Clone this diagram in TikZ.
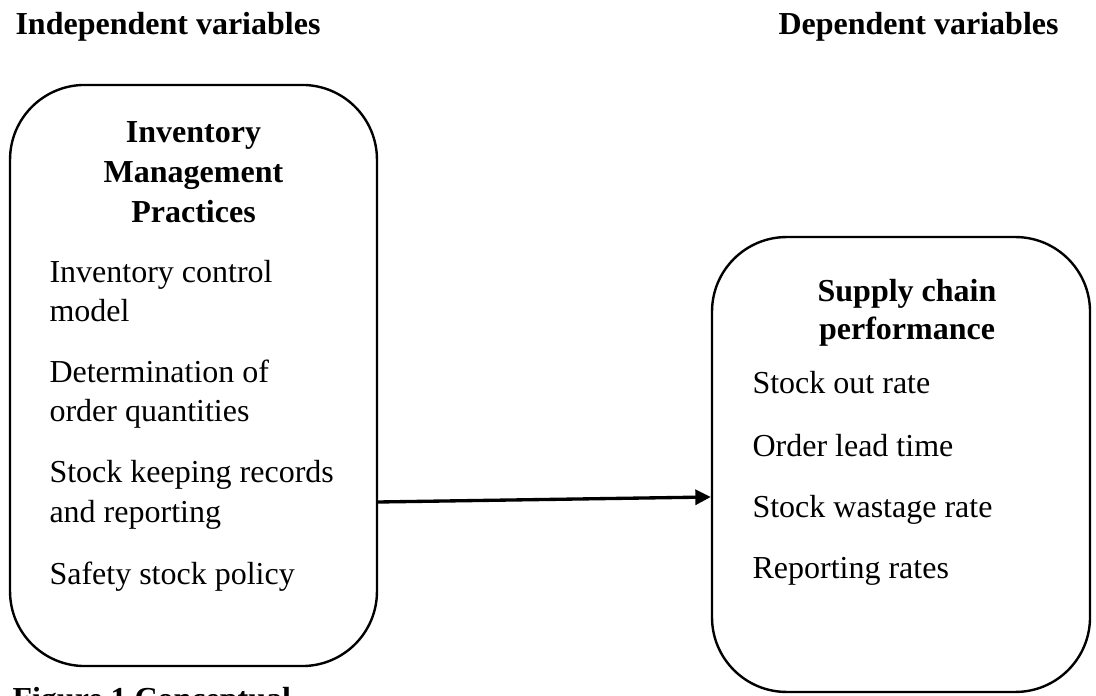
\documentclass[tikz,border=0pt]{standalone}
\usepackage{fontspec}
\setmainfont{Liberation Serif}
\usepackage{tikz}
\usetikzlibrary{calc, positioning, arrows.meta}

\tikzset{
    varbox/.style={draw, line width=0.9pt, rounded corners=28pt, inner sep=0pt},
    heading/.style={font=\bfseries\fontsize{12}{15}\selectfont, inner sep=0pt},
    item/.style={font=\fontsize{12}{15}\selectfont, inner sep=0pt, anchor=base west},
    boxtitle/.style={font=\bfseries\fontsize{12}{15}\selectfont, inner sep=0pt, anchor=base}
}

\begin{document}
\begin{tikzpicture}[x=0.375pt, y=-0.375pt, >={Triangle[length=5.8pt, width=5.6pt]}]
    % frame of the picture (1096 x 696)
    \clip (0,0) rectangle (1096,696);

    % 1. headings
    \node[heading, anchor=base west] (indep) at (15,35) {Independent variables};
    \node[heading, anchor=base west] (dep) at (778,35) {Dependent variables};

    % 2. left box: independent variables
    \node[varbox, minimum width=137.6pt, minimum height=217.9pt] (lbox) at (193.5,375.5) {};
    \node[boxtitle] (lt1) at (193.5,143) {Inventory};
    \node[boxtitle] (lt2) at (193.5,183) {Management};
    \node[boxtitle] (lt3) at (193.5,223) {Practices};

    \node[item] (li1) at (49,283) {Inventory control};
    \node[item] (li1b) at (49,322) {model};
    \node[item] (li2) at (49,383) {Determination of};
    \node[item] (li2b) at (49,422) {order quantities};
    \node[item] (li3) at (49,483) {Stock keeping records};
    \node[item] (li3b) at (49,523) {and reporting};
    \node[item] (li4) at (49,584) {Safety stock policy};

    % 3. right box: dependent variables
    \node[varbox, minimum width=141.75pt, minimum height=170.6pt] (rbox) at (901,464.5) {};
    \node[boxtitle] (rt1) at (907,302) {Supply chain};
    \node[boxtitle] (rt2) at (907,340) {performance};

    \node[item] (ri1) at (752,394) {Stock out rate};
    \node[item] (ri2) at (752,457) {Order lead time};
    \node[item] (ri3) at (752,518) {Stock wastage rate};
    \node[item] (ri4) at (752,578) {Reporting rates};

    % 4. arrow from left box to right box
    \draw[->, line width=1.25pt] ($(lbox.east)+(0,126.5)$) -- ($(rbox.west)+(0,32.5)$);

    % 5. caption (cut off at the bottom edge)
    \node[heading, anchor=base west] (cap) at (12,709) {Figure 1 Conceptual};
\end{tikzpicture}
\end{document}
